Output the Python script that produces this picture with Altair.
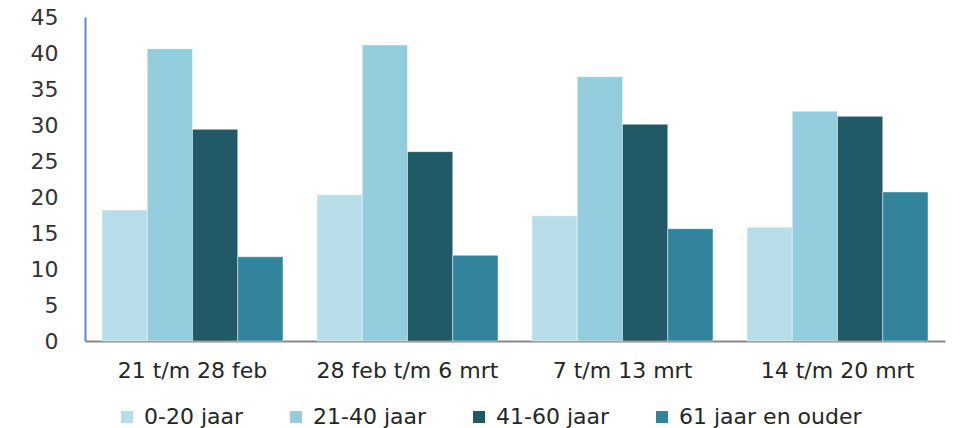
import altair as alt
import pandas as pd

periods = ["21 t/m 28 feb", "28 feb t/m 6 mrt", "7 t/m 13 mrt", "14 t/m 20 mrt"]
groups = ["0-20 jaar", "21-40 jaar", "41-60 jaar", "61 jaar en ouder"]
v_0_20 = [18.2, 20.3, 17.4, 15.8]
v_21_40 = [40.6, 41.1, 36.7, 31.9]
v_41_60 = [29.4, 26.3, 30.1, 31.2]
v_61_plus = [11.7, 11.9, 15.6, 20.7]
colors = ["#B7DEE8", "#93CDDD", "#215967", "#31849B"]
y_ticks = [0, 5, 10, 15, 20, 25, 30, 35, 40, 45]

series = [v_0_20, v_21_40, v_41_60, v_61_plus]
rows = []
for g, vals in zip(groups, series):
    for p, v in zip(periods, vals):
        rows.append({"periode": p, "groep": g, "waarde": v})
df = pd.DataFrame(rows)

FONT = "DejaVu Sans"

chart = alt.Chart(df).mark_bar(
    stroke="white", strokeWidth=1, strokeOpacity=0.45
).encode(
    x=alt.X(
        "periode:N", sort=periods,
        scale=alt.Scale(paddingInner=0.158, paddingOuter=0.079),
        axis=alt.Axis(
            title=None, labelAngle=0, ticks=False, tickSize=0,
            domainColor="#878787", domainWidth=2,
            labelFont=FONT, labelFontSize=22, labelColor="#262626",
            labelPadding=19, labelLimit=400,
        ),
    ),
    xOffset=alt.XOffset("groep:N", sort=groups),
    y=alt.Y(
        "waarde:Q",
        scale=alt.Scale(domain=[0, 45], nice=False),
        axis=alt.Axis(
            title=None, values=y_ticks, grid=False, ticks=False, tickSize=0,
            domainColor="#5B8BCF", domainWidth=2,
            labelFont=FONT, labelFontSize=22, labelColor="#333333",
            labelPadding=27,
        ),
    ),
    color=alt.Color(
        "groep:N", sort=groups,
        scale=alt.Scale(domain=groups, range=colors),
        legend=alt.Legend(
            title=None, orient="none", direction="horizontal",
            legendX=31, legendY=389, padding=0,
            symbolType="square", symbolSize=144, symbolStrokeWidth=0,
            labelFont=FONT, labelFontSize=22, labelColor="#262626",
            labelOffset=6, columnPadding=41, labelLimit=400,
        ),
    ),
).properties(
    width=860, height=324,
    autosize=alt.AutoSizeParams(type="none"),
    padding={"left": 77, "top": 9, "right": 11, "bottom": 87},
).configure_view(stroke=None)

chart.save("out.html", embed_options={"renderer": "svg", "actions": False})
